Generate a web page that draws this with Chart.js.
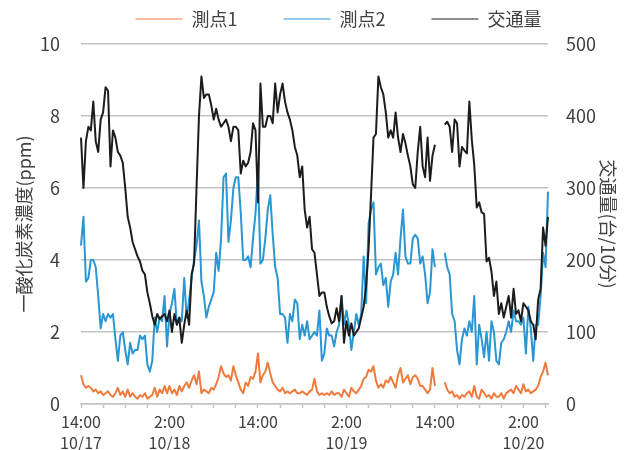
<!DOCTYPE html>
<html lang="ja">
<head>
<meta charset="utf-8">
<title>一酸化炭素濃度と交通量</title>
<script src="https://cdn.jsdelivr.net/npm/chart.js@4.4.0/dist/chart.umd.min.js"></script>
<style>
  html, body { margin: 0; padding: 0; background: #fff; }
</style>
</head>
<body>
<canvas id="coChart" width="631" height="450"></canvas>
<script>
// ── Data: 20-minute samples from 10/17 14:00 (null = no measurement) ──
const site1 = [
  0.8, 0.55, 0.45, 0.5, 0.45, 0.35, 0.4, 0.3, 0.35, 0.25, 0.3, 0.35, 0.25, 0.2, 0.3, 0.45, 0.25, 0.35, 0.2, 0.4,
  0.2, 0.3, 0.2, 0.15, 0.25, 0.2, 0.3, 0.15, 0.2, 0.25, 0.45, 0.2, 0.4, 0.3, 0.5,
  0.3, 0.5, 0.3, 0.4, 0.25, 0.5, 0.35, 0.5, 0.6, 0.45, 0.65, 0.8, 0.55, 0.9, 0.3, 0.4, 0.35, 0.3, 0.45, 0.4,
  0.55, 0.75, 1.05, 0.85, 0.75, 0.8, 0.65, 1.05, 0.8, 0.6, 0.4, 0.3, 0.6,
  0.5, 0.75, 0.7, 0.9, 1.4, 0.6, 0.8, 0.9, 1.15, 0.85, 0.6, 0.5, 0.4, 0.35, 0.45, 0.3, 0.35, 0.3, 0.35, 0.4,
  0.3, 0.3, 0.35, 0.3, 0.25, 0.35, 0.4, 0.7, 0.35, 0.25, 0.3, 0.25, 0.3, 0.25, 0.35, 0.25,
  0.3, 0.3, 0.2, 0.4, 0.3, 0.2, 0.45, 0.35, 0.3, 0.4, 0.5, 0.7, 0.75, 0.95, 0.9, 1.05, 0.65, 0.45, 0.55, 0.45,
  0.65, 0.6, 0.75, 0.6, 0.45, 0.8, 1.0, 0.6, 0.7, 0.8, 0.55, 0.75, 0.8, 0.7, 0.5,
  0.5, 0.4, 0.3, 0.4, 1.0, 0.5,
  null, null, null,
  0.6, 0.4, 0.3, 0.35, 0.2, 0.25, 0.15, 0.25, 0.2, 0.3, 0.35, 0.2, 0.5, 0.2, 0.15, 0.4, 0.3, 0.2, 0.25, 0.15,
  0.3, 0.2,
  0.2, 0.3, 0.15, 0.3, 0.35, 0.4, 0.3, 0.5, 0.4, 0.3, 0.55, 0.35, 0.4, 0.3, 0.35, 0.4, 0.5, 0.75, 0.9, 1.15, 0.8
];

const site2 = [
  4.4, 5.2, 3.4, 3.5, 4.0, 4.0, 3.8, 3.0, 2.1, 2.5, 2.3, 2.5, 2.4, 2.5, 1.8, 1.2, 1.9, 2.0, 1.5, 1.1,
  1.7, 1.4, 1.5, 1.5, 1.9, 1.8, 1.9, 1.1, 0.9, 1.2, 2.4, 2.0, 2.4, 2.3, 3.0,
  1.6, 2.5, 2.8, 3.2, 2.2, 2.4, 2.3, 3.5, 2.4, 2.9, 3.5, 4.0,
  4.4, 5.1, 3.4, 3.0, 2.4, 2.7, 2.9, 3.1, 4.2, 3.7, 4.6, 6.3, 6.4, 4.5, 5.1, 6.0, 6.3, 6.3, 5.3, 4.0, 4.0,
  4.1, 3.8, 4.6, 5.3, 6.5, 3.9, 4.0, 4.6, 5.4, 5.8, 4.7, 3.8, 3.5, 2.5, 2.5, 2.4, 1.7, 2.5, 2.3, 2.9,
  2.8, 1.8, 2.2, 1.9, 2.3, 1.8, 1.9, 2.0, 1.9, 2.6, 1.2, 1.4, 2.1, 1.9, 1.9, 1.6,
  2.0, 2.2, 3.0, 2.2, 2.6, 2.2, 1.5, 2.0, 2.5, 2.2, 2.5, 4.1, 2.8, 5.0, 5.4, 5.6, 3.6, 3.8, 3.9, 3.3,
  3.5, 2.7, 3.4, 3.6, 4.2, 3.6, 4.6, 5.4, 4.1, 3.9, 3.9, 4.6, 4.7, 4.6, 3.9,
  4.1, 3.6, 2.8, 3.1, 4.3, 3.8,
  null, null, null,
  4.2, 3.8, 3.6, 2.5, 2.3, 1.5, 1.1, 1.8, 2.1, 1.9, 2.3, 2.0, 3.0, 1.1, 2.2, 1.8, 1.3, 2.0, 1.2, 2.3,
  2.0, 1.2,
  1.1, 1.7, 1.8, 2.0, 2.3, 2.0, 2.6, 2.3, 2.3, 2.2, 2.4, 1.4, 2.7, 2.1, 1.2, 2.2, 2.2, 3.0, 4.2, 3.8, 5.9
];

const traffic = [
  370, 300, 365, 385, 380, 420, 365, 350, 395, 405, 440, 435, 330, 380, 370, 350, 345, 335, 300, 260,
  245, 225, 215, 205, 198, 185, 180, 155, 140, 122, 110, 125, 118, 122, 125,
  115, 130, 100, 125, 110, 120, 85, 110, 130, 110, 180, 195, 300, 400, 455, 425, 430, 430, 415, 395,
  410, 395, 385, 390, 395, 385, 365, 385, 385, 380, 320, 338, 330,
  335, 350, 390, 380, 280, 445, 385, 385, 400, 400, 390, 445, 405, 430, 445, 420, 405, 395, 380, 357,
  345, 315, 330, 270, 245, 260, 215, 210, 180, 150, 155, 155, 135, 122, 112, 115,
  133, 115, 150, 85, 115, 95, 112, 95, 100, 105, 120, 135, 165, 215, 290, 370, 375, 455, 440, 430,
  405, 370, 380, 370, 405, 370, 350, 375, 362, 345, 330, 305, 300, 350, 385,
  330, 315, 370, 310, 345, 360,
  null, null, null,
  388, 392, 385, 350, 395, 390, 330, 357, 352, 348, 420, 367, 332, 273, 280, 266, 264, 198, 203, 184,
  150, 170, 125, 140, 120,
  135, 150, 120, 160, 125, 130, 115, 140, 135, 130, 115, 110, 90, 145, 160, 245, 220, 260
];

// ── Axis tick labels (one every 12 h) ──
const tickTimes = ['14:00', '2:00', '14:00', '2:00', '14:00', '2:00'];
const tickDates = ['10/17', '10/18', '', '10/19', '', '10/20'];
const LABEL_EVERY = 36;  // 12 h of 20-min samples
const MARK_EVERY = 9;    // minor tick mark every 3 h

// ── Sample time categories ──
const start = new Date(2023, 9, 17, 14, 0);
const labels = traffic.map((_, i) => {
  const t = new Date(start.getTime() + i * 20 * 60000);
  return `${t.getMonth() + 1}/${t.getDate()} ${t.getHours()}:${String(t.getMinutes()).padStart(2, '0')}`;
});

const TEXT = '#404040';
const GRID = '#c3c3c3';

Chart.defaults.font.family = "'Noto Sans CJK JP', 'Noto Sans', sans-serif";
Chart.defaults.color = TEXT;

// ── Legend placement (row sits above the plot, gaps as in the original) ──
const legendBox = {
  id: 'legendBox',
  beforeInit(chart) {
    const lg = chart.legend;
    if (!lg) return;
    const fit = lg.fit;
    lg.fit = function () { fit.call(this); this.height = 44; };
  },
  afterLayout(chart) {
    chart.legend.top = -36;
    chart.legend.left = 46;
  }
};

new Chart(document.getElementById('coChart'), {
  type: 'line',
  data: {
    labels,
    datasets: [
      { label: '測点1', data: site1, yAxisID: 'y', borderColor: '#ef7a3c', order: 2 },
      { label: '測点2', data: site2, yAxisID: 'y', borderColor: '#2a96d2', order: 1 },
      { label: '交通量', data: traffic, yAxisID: 'y2', borderColor: '#1c1c1c', order: 0 }
    ]
  },
  options: {
    responsive: false,
    animation: false,
    layout: { padding: 0 },
    elements: {
      point: { radius: 0, hoverRadius: 0 },
      line: { borderWidth: 2, tension: 0, borderJoinStyle: 'round', fill: false }
    },
    spanGaps: false,
    plugins: {
      tooltip: { enabled: false },
      legend: {
        position: 'top',
        labels: {
          usePointStyle: true,
          pointStyle: 'line',
          pointStyleWidth: 47,
          padding: 46,
          color: TEXT,
          font: { size: 18 },
          sort: (a, b) => a.datasetIndex - b.datasetIndex
        }
      }
    },
    scales: {
      x: {
        type: 'category',
        afterFit: s => { s.height = 46; },
        grid: {
          display: true,
          drawOnChartArea: false,
          drawTicks: true,
          tickLength: 4,
          tickWidth: 1.5,
          tickColor: c => (c.index % MARK_EVERY === 0 ? GRID : 'rgba(0,0,0,0)')
        },
        border: { display: true, color: GRID, width: 1.5 },
        ticks: {
          autoSkip: false,
          maxRotation: 0,
          minRotation: 0,
          padding: 4,
          color: TEXT,
          font: { size: 16, lineHeight: 1.3 },
          callback: (value, index) => {
            if (index % LABEL_EVERY !== 0) return '';
            const k = index / LABEL_EVERY;
            return tickDates[k] ? [tickTimes[k], tickDates[k]] : tickTimes[k];
          }
        }
      },
      y: {
        position: 'left',
        min: 0,
        max: 10,
        afterFit: s => { s.width = 81; },
        ticks: { stepSize: 2, padding: 21, color: TEXT, font: { size: 18 } },
        grid: { color: GRID, lineWidth: 1.5, drawTicks: false },
        border: { display: false },
        title: {
          display: true,
          text: '一酸化炭素濃度(ppm)',
          color: TEXT,
          font: { size: 18 },
          padding: { top: 13, bottom: 0 }
        }
      },
      y2: {
        position: 'right',
        min: 0,
        max: 500,
        afterFit: s => { s.width = 83; },
        ticks: { stepSize: 100, padding: 18, color: TEXT, font: { size: 18 } },
        grid: { display: false, drawTicks: false },
        border: { display: false },
        title: {
          display: true,
          text: '交通量(台/10分)',
          color: TEXT,
          font: { size: 18 },
          padding: { top: 12, bottom: 0 }
        }
      }
    }
  },
  plugins: [legendBox]
});
</script>
</body>
</html>
